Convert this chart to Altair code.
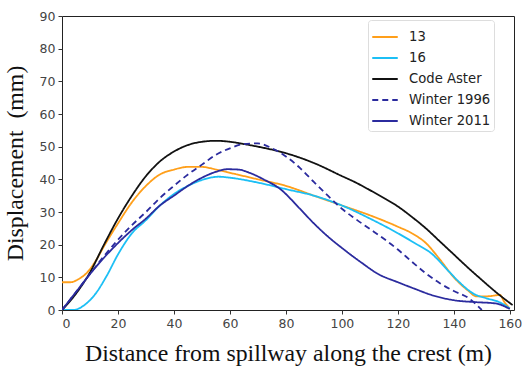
import altair as alt
import pandas as pd

series_names = ["13", "16", "Code Aster", "Winter 1996", "Winter 2011"]
series_colors = ["#ff9f1a", "#1cbff5", "#111111", "#2b2b9e", "#2b2b9e"]
series_dash = [[1, 0], [1, 0], [1, 0], [6, 4], [1, 0]]

x_aster = [0, 5, 10, 15, 20, 25, 30, 35, 40, 45, 50, 55, 60, 65, 70, 80, 90, 100, 105, 110, 115, 120, 125, 130, 135, 140, 145, 150, 155, 161]
y_aster = [0, 5, 11.5, 20, 28, 35, 41, 45.5, 48.5, 50.5, 51.5, 51.8, 51.5, 50.8, 50, 48, 45, 41, 39, 36.7, 34.3, 31.7, 28.5, 25, 21, 17, 13, 9.2, 5.5, 1.5]

x_13 = [0, 3, 6, 9, 12, 15, 20, 25, 30, 35, 40, 45, 50, 55, 60, 70, 80, 90, 100, 110, 120, 125, 130, 135, 140, 145, 148, 152, 156.5, 158, 160]
y_13 = [8.5, 8.5, 9.5, 11.5, 15, 19.5, 26.5, 33, 38, 41.5, 43, 43.8, 43.8, 43, 42, 40, 38, 35, 32, 29, 25.5, 23.5, 20.5, 15.5, 10, 6, 4.2, 4.2, 4.6, 2.5, 0.5]

x_16 = [0, 4, 8, 12, 16, 20, 25, 30, 35, 40, 45, 50, 56, 60, 70, 80, 90, 100, 110, 120, 126, 132, 138, 142, 147, 152, 156, 160]
y_16 = [0, 0, 1.5, 5, 10.5, 17, 23.5, 27.5, 32, 35.5, 38, 39.8, 40.8, 40.5, 39, 37, 35, 32, 28, 23.5, 20.5, 17.3, 12, 8.5, 5, 3.5, 2.5, 0.5]

x_1996 = [0, 5, 10, 15, 20, 25, 30, 35, 40, 45, 50, 55, 60, 65, 70, 75, 80, 85, 90, 95, 100, 105, 110, 115, 120, 125, 130, 135, 140, 145, 150]
y_1996 = [0, 5.5, 11, 16.5, 21.5, 26, 30, 34.3, 38, 41.5, 44.5, 47.5, 49.5, 50.8, 51, 49.5, 47, 43.5, 39.2, 35, 31, 27.8, 24.8, 21.8, 18.5, 14.8, 11.2, 8.2, 5.8, 3.8, 0]

x_2011 = [0, 5, 10, 15, 20, 25, 30, 35, 40, 45, 50, 55, 59, 63, 67, 72, 78, 85, 90, 95, 100, 107, 113, 120, 126, 132, 140, 148, 155, 160]
y_2011 = [0, 5.5, 11, 16, 20.5, 24.5, 28, 32, 35, 38, 40.5, 42.3, 43.1, 43, 42, 40, 37, 31, 26.5, 22.5, 19, 14.5, 11, 8.5, 6.5, 4.6, 3, 2.4, 2, 0.3]

x_ticks = [0, 20, 40, 60, 80, 100, 120, 140, 160]
y_ticks = [0, 10, 20, 30, 40, 50, 60, 70, 80, 90]

frames = []
for name, xs, ys in [("13", x_13, y_13), ("16", x_16, y_16), ("Code Aster", x_aster, y_aster),
                     ("Winter 1996", x_1996, y_1996), ("Winter 2011", x_2011, y_2011)]:
    frames.append(pd.DataFrame({"x": xs, "y": ys, "series": name}))
df = pd.concat(frames, ignore_index=True)

label_expr = "indexof(datum.label, 'Winter') == 0 ? '\u00a0' + datum.label : datum.label"

chart = alt.Chart(df).mark_line(strokeWidth=1.8, interpolate="monotone", clip=True).encode(
    x=alt.X("x:Q", scale=alt.Scale(domain=[0, 161.5], nice=False, zero=False),
            axis=alt.Axis(values=x_ticks, title="Distance from spillway along the crest (m)")),
    y=alt.Y("y:Q", scale=alt.Scale(domain=[0, 90], nice=False),
            axis=alt.Axis(values=y_ticks, title="Displacement\u00a0\u00a0(mm)")),
    color=alt.Color("series:N", scale=alt.Scale(domain=series_names, range=series_colors),
                    legend=alt.Legend(title=None, labelExpr=label_expr)),
    strokeDash=alt.StrokeDash("series:N", scale=alt.Scale(domain=series_names, range=series_dash),
                              legend=alt.Legend(title=None, labelExpr=label_expr)),
    detail="series:N",
).properties(
    width=452, height=294,
    autosize=alt.AutoSizeParams(type="none"),
    padding={"left": 62, "top": 16, "right": 10, "bottom": 62},
).configure_view(
    stroke="#222222", strokeWidth=1
).configure_axis(
    grid=False, domain=False, tickColor="#333333", tickSize=4, tickWidth=1,
    labelFont="DejaVu Sans", labelFontSize=12.5, labelColor="#444444", labelPadding=3,
    titleFont="Liberation Serif", titleFontSize=23.8, titleFontWeight="normal", titleColor="#111111",
).configure_axisX(
    titlePadding=12
).configure_axisY(
    titlePadding=12
).configure_legend(
    orient="none", legendX=306, legendY=4,
    symbolType="stroke", symbolSize=650, symbolStrokeWidth=1.8,
    labelFont="DejaVu Sans", labelFontSize=13.2, labelColor="#222222",
    strokeColor="#dddddd", fillColor="white", cornerRadius=3, padding=3,
    rowPadding=0, labelOffset=10,
)

chart.save("out.html", embed_options={"renderer": "svg", "actions": False})
